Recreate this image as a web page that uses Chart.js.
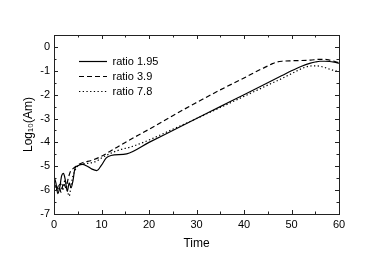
<!DOCTYPE html>
<html>
<head>
<meta charset="utf-8">
<script src="https://cdn.jsdelivr.net/npm/chart.js@4"></script>
<style>
  html, body { margin: 0; padding: 0; background: #fff; }
  #wrapper { width: 373px; height: 255px; }
</style>
</head>
<body>
<div id="wrapper"><canvas id="Scheme" width="373" height="255"></canvas></div>
<script>
let labels = ['ratio 1.95', 'ratio 3.9', 'ratio 7.8'],
    dashes = [[], [5, 3], [1.3, 2.4]],
    timeA = [0, 0.4, 0.8, 1.2, 1.6, 2, 2.4, 2.8, 3.2, 3.6, 4, 4.4, 5, 6, 7, 8, 9, 10, 11, 12, 15.3, 20, 25, 30, 35, 40, 45, 48, 50, 52, 54, 55, 56, 57, 58, 59, 60],
    valA = [-5.4, -5.7, -6.15, -5.9, -5.4, -5.3, -5.6, -6.05, -5.7, -5.9, -5.6, -5.1, -4.98, -4.92, -5.0, -5.12, -5.18, -4.95, -4.65, -4.55, -4.48, -4.0, -3.5, -3.0, -2.5, -2.0, -1.5, -1.2, -1.0, -0.82, -0.68, -0.63, -0.6, -0.6, -0.61, -0.64, -0.68],
    timeB = [0, 0.5, 1, 1.5, 2, 2.5, 3, 3.5, 4, 5, 6, 8, 10, 12, 15, 20, 25, 28.6, 30, 35, 40, 43, 45, 46, 47, 48, 50, 52, 54, 56, 57, 58, 59, 60],
    valB = [-5.7, -6.0, -5.8, -6.1, -5.7, -5.9, -5.5, -5.2, -5.1, -4.95, -4.85, -4.75, -4.58, -4.35, -4.0, -3.45, -2.88, -2.48, -2.33, -1.8, -1.3, -0.99, -0.8, -0.7, -0.63, -0.6, -0.58, -0.57, -0.55, -0.52, -0.52, -0.55, -0.6, -0.66],
    timeC = [0.3, 0.8, 1.3, 1.8, 2.3, 2.8, 3.2, 3.6, 4, 4.5, 5, 6, 7, 8, 9, 10, 12, 14, 16, 20, 25, 30, 35, 40, 45, 48, 50, 52, 53, 54, 55, 56, 57, 58, 59, 60],
    valC = [-5.8, -6.1, -5.7, -6.0, -5.6, -6.0, -6.25, -5.8, -5.4, -5.15, -5.0, -4.9, -4.88, -4.85, -4.78, -4.65, -4.45, -4.3, -4.2, -3.9, -3.45, -3.0, -2.54, -2.07, -1.6, -1.32, -1.12, -0.92, -0.84, -0.8, -0.79, -0.81, -0.86, -0.93, -0.99, -1.02],
    xTicks = [0, 10, 20, 30, 40, 50, 60],
    yTicks = [-7, -6, -5, -4, -3, -2, -1, 0];

function points(t, v) {
    return t.map(function (item, index) {
        return {x: item, y: v[index]};
    });
}

let series = [points(timeA, valA), points(timeB, valB), points(timeC, valC)];

// frame and inward ticks on all four sides
const frameTicks = {
    id: 'frameTicks',
    afterDatasetsDraw(chart) {
        const ctx = chart.ctx, a = chart.chartArea, sx = chart.scales.x, sy = chart.scales.y;
        ctx.save();
        ctx.strokeStyle = '#222';
        ctx.lineWidth = 1;
        ctx.beginPath();
        for (let t = 0; t <= 60; t += 5) {
            let px = Math.round(sx.getPixelForValue(t)) + 0.5, len = (t % 10 === 0) ? 4 : 2.5;
            ctx.moveTo(px, a.bottom); ctx.lineTo(px, a.bottom - len);
            ctx.moveTo(px, a.top); ctx.lineTo(px, a.top + len);
        }
        for (let v = -7; v <= 0.5; v += 0.5) {
            let py = Math.round(sy.getPixelForValue(v)) + 0.5, len = Number.isInteger(v) ? 4 : 2.5;
            ctx.moveTo(a.left, py); ctx.lineTo(a.left + len, py);
            ctx.moveTo(a.right, py); ctx.lineTo(a.right - len, py);
        }
        ctx.stroke();
        ctx.strokeRect(Math.round(a.left) + 0.5, Math.round(a.top) + 0.5, Math.round(a.right - a.left), Math.round(a.bottom - a.top));
        ctx.restore();
    },
    afterLayout(chart) {
        // move the legend inside the plot like the original
        chart.legend.left = chart.chartArea.left + 21;
        chart.legend.top = chart.chartArea.top + 17;
    }
};

const ctx = document.getElementById('Scheme').getContext('2d');
const chart = new Chart(ctx, {
    type: 'line',
    data: {
        datasets: series.map(function (item, index) {
            return {
                label: labels[index],
                data: item,
                borderColor: '#000',
                backgroundColor: '#000',
                borderWidth: 1.2,
                borderDash: dashes[index],
                pointRadius: 0,
                cubicInterpolationMode: 'monotone',
                fill: false
            };
        })
    },
    options: {
        responsive: false,
        animation: false,
        layout: {padding: {top: 35, right: 34, left: 0, bottom: 0}},
        plugins: {
            legend: {
                position: 'chartArea',
                align: 'start',
                labels: {
                    usePointStyle: true,
                    pointStyle: 'line',
                    pointStyleWidth: 28,
                    boxHeight: 8,
                    padding: 4,
                    color: '#000',
                    font: {family: 'Liberation Sans', size: 11},
                    generateLabels: function (c) {
                        let items = Chart.defaults.plugins.legend.labels.generateLabels(c);
                        items.forEach(function (item) {
                            item.lineDash = dashes[item.datasetIndex];
                            item.lineWidth = 1.2;
                            item.strokeStyle = '#000';
                        });
                        return items;
                    }
                }
            },
            tooltip: {enabled: false}
        },
        scales: {
            x: {
                type: 'linear',
                min: 0,
                max: 60,
                afterFit: function (s) { s.height = 41; },
                afterBuildTicks: function (s) { s.ticks = xTicks.map(function (v) { return {value: v}; }); },
                grid: {display: false, drawTicks: false},
                border: {display: false},
                ticks: {padding: 4, color: '#000', maxRotation: 0, font: {family: 'Liberation Sans', size: 11}},
                title: {display: true, text: 'Time', color: '#000', padding: {top: 0, bottom: 4}, font: {family: 'Liberation Sans', size: 12}}
            },
            y: {
                type: 'linear',
                min: -7,
                max: 0.5,
                afterFit: function (s) { s.width = 54; },
                afterBuildTicks: function (s) { s.ticks = yTicks.map(function (v) { return {value: v}; }); },
                grid: {display: false, drawTicks: false},
                border: {display: false},
                ticks: {padding: 4, color: '#000', font: {family: 'Liberation Sans', size: 11}},
                title: {display: true, text: 'Log\u2081\u2080(Am)', color: '#000', padding: {top: 21, bottom: 0}, font: {family: 'Liberation Sans', size: 12}}
            }
        }
    },
    plugins: [frameTicks]
});
</script>
</body>
</html>
